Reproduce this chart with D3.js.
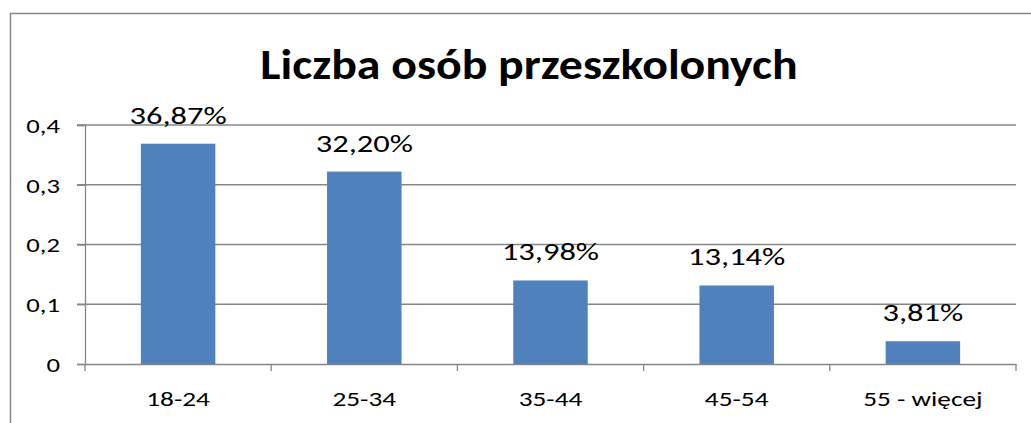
<!DOCTYPE html>
<html>
<head>
<meta charset="utf-8">
<script src="https://cdn.jsdelivr.net/npm/d3@7"></script>
<style>
  body { margin: 0; background: #fff; }
  svg text { font-family: Carlito, Calibri, Lato, sans-serif; fill: #000; }
</style>
</head>
<body>
<svg width="1031" height="423"></svg>
<script>
let title = 'Liczba osób przeszkolonych'
let categories = ['18-24', '25-34', '35-44', '45-54', '55 - więcej']
let values = [0.3687, 0.3220, 0.1398, 0.1314, 0.0381]
let labels = ['36,87%', '32,20%', '13,98%', '13,14%', '3,81%']
let yTicks = [0, 0.1, 0.2, 0.3, 0.4]

let svg = d3.select('svg')
let sx = 1.3 // text is drawn a bit wider than tall, like the picture

let plotLeft = 85, plotRight = 1016, plotTop = 125, plotBottom = 364

svg.append('rect')
    .attr('x', 10.5).attr('y', 13.5)
    .attr('width', 1040).attr('height', 430)
    .attr('fill', 'none').attr('stroke', '#868686').attr('stroke-width', 1.5)

let x = d3.scaleBand().domain(categories).range([plotLeft, plotRight])
let y = d3.scaleLinear().domain([0, 0.4]).range([plotBottom, plotTop])

// gridlines
svg.selectAll('.grid')
    .data(yTicks.slice(1))
    .enter()
    .append('line')
    .attr('x1', plotLeft - 8).attr('x2', plotRight)
    .attr('y1', d => y(d)).attr('y2', d => y(d))
    .attr('stroke', '#868686').attr('stroke-width', 1.3)

let yAxis = svg.append('g')
    .attr('transform', `translate(${plotLeft},0)`)
    .call(d3.axisLeft(y).tickValues(yTicks).tickSize(8).tickFormat(d => d === 0 ? '0' : d3.format('.1f')(d).replace('.', ',')))
yAxis.select('.domain').attr('stroke', '#868686').attr('stroke-width', 1.3)
yAxis.selectAll('.tick line').attr('stroke', '#868686').attr('stroke-width', 1.3)
yAxis.selectAll('.tick text')
    .attr('font-size', 20.5).attr('x', 0).attr('dy', '0.36em')
    .attr('transform', `translate(-25,0) scale(${sx},1)`)

let xAxis = svg.append('g')
    .attr('transform', `translate(0,${plotBottom})`)
    .call(d3.axisBottom(x).tickSize(0).tickSizeOuter(0))
xAxis.select('.domain').attr('stroke', '#868686').attr('stroke-width', 1.3)
xAxis.selectAll('.tick text')
    .attr('font-size', 21).attr('y', 0).attr('dy', 0)
    .attr('transform', `translate(0,42) scale(${sx},1)`)

// category boundary ticks
let bounds = categories.map(c => x(c)).concat([plotRight])
svg.selectAll('.xtick')
    .data(bounds)
    .enter()
    .append('line')
    .attr('x1', d => d).attr('x2', d => d)
    .attr('y1', plotBottom).attr('y2', plotBottom + 7)
    .attr('stroke', '#868686').attr('stroke-width', 1.3)

let barW = x.bandwidth() * 0.4
svg.selectAll('.bar')
    .data(values)
    .enter()
    .append('rect')
    .attr('x', (d, i) => x(categories[i]) + x.bandwidth() / 2 - barW / 2)
    .attr('y', d => y(d))
    .attr('width', barW)
    .attr('height', d => plotBottom - y(d))
    .attr('fill', '#4F81BD')

svg.selectAll('.lbl')
    .data(values)
    .enter()
    .append('text')
    .attr('text-anchor', 'middle')
    .attr('font-size', 25)
    .attr('transform', (d, i) => `translate(${x(categories[i]) + x.bandwidth() / 2},${y(d) - 20}) scale(${sx},1)`)
    .text((d, i) => labels[i])

svg.append('text')
    .attr('text-anchor', 'middle')
    .attr('font-size', 43)
    .attr('font-weight', 'bold')
    .attr('transform', `translate(529,79) scale(${sx * 0.855},1)`)
    .text(title)
</script>
</body>
</html>
